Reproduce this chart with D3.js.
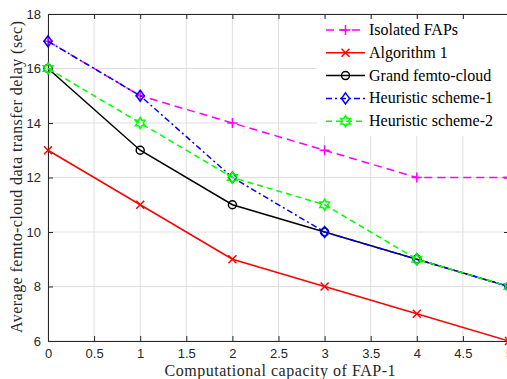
<!DOCTYPE html>
<html>
<head>
<meta charset="utf-8">
<script src="https://cdn.jsdelivr.net/npm/d3@7"></script>
<style>
  body { margin: 0; background: #fff; }
  .tick text { font-family: "Liberation Sans", Arial, sans-serif; font-size: 13px; fill: #262626; }
  .lbl { font-family: "Liberation Serif", "Times New Roman", serif; font-size: 16px; fill: #262626; }
  .leg { font-family: "Liberation Serif", "Times New Roman", serif; font-size: 16px; fill: #000; }
</style>
</head>
<body>
<div id="graph"></div>
<script>
"use strict";

// capacity values on the x axis
var capacity = [0, 1, 2, 3, 4, 5];
var isolatedFAPs = [17, 15, 14, 13, 12, 12];
var algorithm1 = [13, 11, 9, 8, 7, 6];
var grandCloud = [16, 13, 11, 10, 9, 8];
var heuristic1 = [17, 15, 12, 10, 9, 8];
var heuristic2 = [16, 14, 12, 11, 9, 8];
var xTicks = [0, 0.5, 1, 1.5, 2, 2.5, 3, 3.5, 4, 4.5, 5];
var yTicks = [6, 8, 10, 12, 14, 16, 18];

var series = [
  {name: "Isolated FAPs", values: isolatedFAPs, color: "#ff00ff", dash: "8,5", marker: "plus"},
  {name: "Algorithm 1", values: algorithm1, color: "#ff0000", dash: null, marker: "cross"},
  {name: "Grand femto-cloud", values: grandCloud, color: "#000000", dash: null, marker: "circle"},
  {name: "Heuristic scheme-1", values: heuristic1, color: "#0000ff", dash: "6,3,2,3", marker: "diamond"},
  {name: "Heuristic scheme-2", values: heuristic2, color: "#00ff00", dash: "6,4", marker: "hexagram"}
];

var W = 507, H = 379;
var margin = {top: 14, left: 48};
var plotW = 461, plotH = 327;

var svg = d3.select("#graph").append("svg").attr("width", W).attr("height", H);
var g = svg.append("g").attr("transform", "translate(" + margin.left + "," + margin.top + ")");

var x = d3.scaleLinear().domain([0, 5]).range([0, plotW]);
var y = d3.scaleLinear().domain([6, 18]).range([plotH, 0]);

// grid
g.append("g").selectAll("line").data(xTicks).join("line")
  .attr("x1", function(d) { return x(d); }).attr("x2", function(d) { return x(d); })
  .attr("y1", 0).attr("y2", plotH)
  .attr("stroke", "#dfdfdf").attr("stroke-width", 1);
g.append("g").selectAll("line").data(yTicks).join("line")
  .attr("y1", function(d) { return y(d); }).attr("y2", function(d) { return y(d); })
  .attr("x1", 0).attr("x2", plotW)
  .attr("stroke", "#dfdfdf").attr("stroke-width", 1);

// axes
g.append("g").attr("transform", "translate(0," + plotH + ")")
  .call(d3.axisBottom(x).tickValues(xTicks).tickSize(-5).tickPadding(8).tickFormat(d3.format("")));
g.append("g")
  .call(d3.axisLeft(y).tickValues(yTicks).tickSize(-5).tickPadding(7));
g.append("g").call(d3.axisTop(x).tickValues(xTicks).tickSize(-5).tickFormat(""));
g.append("g").attr("transform", "translate(" + plotW + ",0)")
  .call(d3.axisRight(y).tickValues(yTicks).tickSize(-5).tickFormat(""));
g.selectAll(".domain, .tick line").attr("stroke", "#262626");

var line = d3.line()
  .x(function(d, i) { return x(capacity[i]); })
  .y(function(d) { return y(d); });

function hexagram(r) {
  var p = [];
  for (var k = 0; k < 12; k++) {
    var a = -Math.PI / 2 + k * Math.PI / 6;
    var rr = (k % 2 === 0) ? r : r * 0.58;
    p.push([rr * Math.cos(a), rr * Math.sin(a)]);
  }
  return "M" + p.join("L") + "Z";
}

function drawMarker(sel, type, color) {
  if (type === "plus") {
    sel.append("path").attr("d", "M-5,0L5,0M0,-5L0,5")
      .attr("stroke", color).attr("stroke-width", 1.5).attr("fill", "none");
  } else if (type === "cross") {
    sel.append("path").attr("d", "M-4,-4L4,4M-4,4L4,-4")
      .attr("stroke", color).attr("stroke-width", 1.5).attr("fill", "none");
  } else if (type === "circle") {
    sel.append("circle").attr("r", 4)
      .attr("stroke", color).attr("stroke-width", 1.5).attr("fill", "none");
  } else if (type === "diamond") {
    sel.append("path").attr("d", "M0,-5.5L4,0L0,5.5L-4,0Z")
      .attr("stroke", color).attr("stroke-width", 1.5).attr("fill", "none");
  } else if (type === "hexagram") {
    sel.append("path").attr("d", hexagram(5.5))
      .attr("stroke", color).attr("stroke-width", 1.5).attr("fill", "none");
  }
}

series.forEach(function(s) {
  g.append("path")
    .datum(s.values)
    .attr("d", line)
    .attr("fill", "none")
    .attr("stroke", s.color)
    .attr("stroke-width", 1.5)
    .attr("stroke-dasharray", s.dash);
  s.values.forEach(function(v, i) {
    var m = g.append("g").attr("transform", "translate(" + x(capacity[i]) + "," + y(v) + ")");
    drawMarker(m, s.marker, s.color);
  });
});

// legend
var leg = svg.append("g").attr("transform", "translate(317,19)");
leg.append("rect").attr("width", 190).attr("height", 117).attr("fill", "#fff");
series.forEach(function(s, i) {
  var row = leg.append("g").attr("transform", "translate(0," + (11 + i * 22.8) + ")");
  row.append("line").attr("x1", 9).attr("x2", 48).attr("y1", 0).attr("y2", 0)
    .attr("stroke", s.color).attr("stroke-width", 1.5).attr("stroke-dasharray", s.dash);
  var m = row.append("g").attr("transform", "translate(28.5,0)");
  drawMarker(m, s.marker, s.color);
  row.append("text").attr("class", "leg").attr("x", 52).attr("y", 5).text(s.name);
});

// axis labels
svg.append("text").attr("class", "lbl").attr("text-anchor", "middle")
  .attr("x", 280).attr("y", 376)
  .attr("textLength", 231).attr("lengthAdjust", "spacing")
  .text("Computational capacity of FAP-1");
svg.append("text").attr("class", "lbl").attr("text-anchor", "middle")
  .attr("transform", "translate(22,177) rotate(-90)")
  .attr("textLength", 312).attr("lengthAdjust", "spacing")
  .text("Average femto-cloud data transfer delay (sec)");
</script>
</body>
</html>
